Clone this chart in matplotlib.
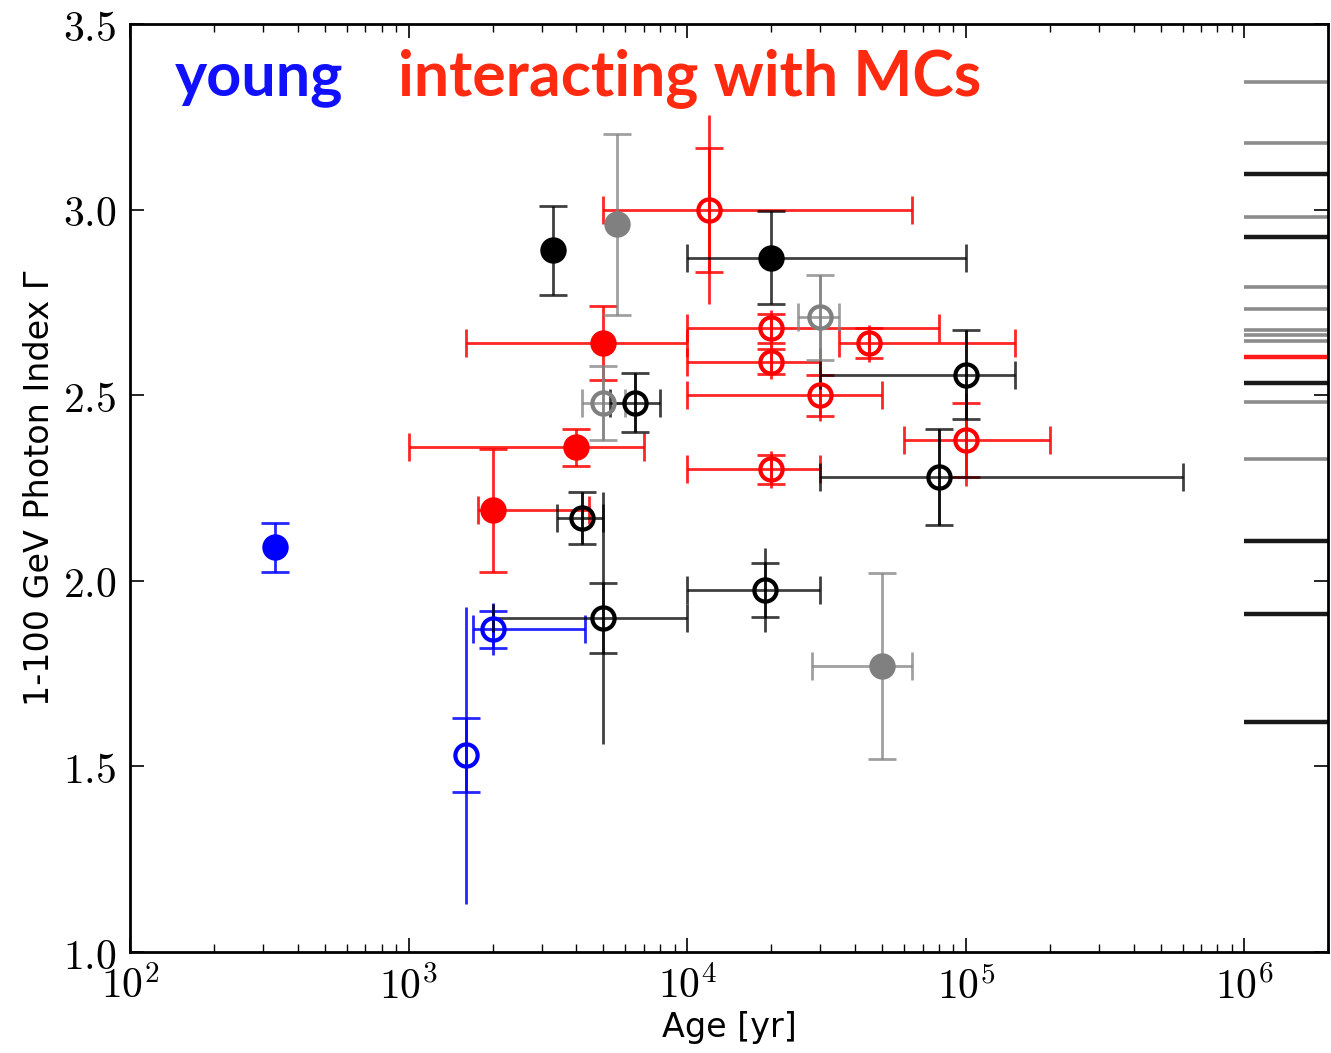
import matplotlib
matplotlib.use("Agg")
import matplotlib.pyplot as plt
from matplotlib.ticker import FixedLocator, FuncFormatter, LogLocator, NullFormatter
import numpy as np

plt.rcParams["mathtext.fontset"] = "cm"

# SNR sample: age [yr], age range, 1-100 GeV photon index, stat / syst errors
group = ["young", "young", "young",
         "mc", "mc", "mc", "mc", "mc", "mc", "mc", "mc", "mc", "mc",
         "other", "unsure", "other", "unsure", "unsure", "other", "other",
         "other", "other", "other", "other", "unsure"]
filled = [True, False, False,
          True, True, True, False, False, False, False, False, False, False,
          True, True, True, False, False, False, False,
          False, False, False, False, True]
age = [330, 2000, 1600,
       5000, 4000, 2000, 12000, 20000, 20000, 45000, 30000, 100000, 20000,
       3300, 5600, 20000, 30000, 5000, 6500, 4200,
       5000, 19000, 100000, 80000, 50000]
age_lo = [None, 1700, None,
          1600, 1000, 1780, 5000, 10000, 10000, 35000, 10000, 60000, 10000,
          None, None, 10000, 25000, 4200, 5300, 3400,
          2000, 10000, 30000, 30000, 28000]
age_hi = [None, 4300, None,
          10000, 7000, 4450, 64000, 80000, 30000, 150000, 50000, 200000, 30000,
          None, None, 100000, 35000, 6000, 8000, 5000,
          10000, 30000, 150000, 600000, 64000]
gamma = [2.09, 1.87, 1.53,
         2.64, 2.36, 2.19, 3.00, 2.68, 2.59, 2.64, 2.50, 2.38, 2.30,
         2.89, 2.96, 2.87, 2.71, 2.48, 2.48, 2.17,
         1.90, 1.975, 2.555, 2.28, 1.77]
gamma_stat = [0.065, 0.05, 0.10,
              0.10, 0.05, 0.165, 0.167, 0.04, 0.034, 0.04, 0.055, 0.10, 0.04,
              0.12, 0.245, 0.125, 0.115, 0.10, 0.08, 0.07,
              0.095, 0.073, 0.12, 0.13, 0.25]
gamma_sys = [0.0, 0.07, 0.40,
             0.0, 0.0, 0.0, 0.255, 0.05, 0.045, 0.05, 0.07, 0.125, 0.05,
             0.0, 0.0, 0.0, 0.115, 0.10, 0.08, 0.07,
             0.34, 0.113, 0.12, 0.13, 0.0]

# sources without age estimate, shown as bars at the right edge
noage_gamma = [3.344, 3.179, 3.095, 2.981, 2.926, 2.791, 2.732, 2.675, 2.661,
               2.647, 2.603, 2.533, 2.482, 2.328, 2.107, 1.910, 1.620]
noage_group = ["unsure", "unsure", "other", "unsure", "other", "unsure", "unsure",
               "unsure", "unsure", "unsure", "mc", "other", "unsure", "unsure",
               "other", "other", "other"]

COLORS = {"young": "#0000ff", "mc": "#ff0000", "other": "#000000", "unsure": "#808080"}

fig = plt.figure(figsize=(13.31, 10.53), dpi=100)
ax = fig.add_axes([0.0977, 0.0959, 0.9003, 0.8813])

for i in range(len(age)):
    c = COLORS[group[i]]
    if age_lo[i] is not None:
        xerr = [[age[i] - age_lo[i]], [age_hi[i] - age[i]]]
    else:
        xerr = None
    ealpha = 0.75 if group[i] in ("other", "unsure") else 0.85
    if gamma_sys[i] > 0:
        ax.errorbar(age[i], gamma[i], yerr=gamma_sys[i], fmt="none",
                    ecolor=c, elinewidth=2.0, capsize=0, alpha=ealpha, zorder=2)
    ax.errorbar(age[i], gamma[i], xerr=xerr, yerr=gamma_stat[i], fmt="none",
                ecolor=c, elinewidth=2.0, capsize=10, capthick=2.0,
                alpha=ealpha, zorder=2)
    ax.plot(age[i], gamma[i], "o", ms=16, mew=3.0, mec=c,
            mfc=c if filled[i] else "none", zorder=3)

for g, grp in zip(noage_gamma, noage_group):
    lw = 3.2 if grp in ("other", "mc") else 2.6
    ax.hlines(g, 1.0e6, 2e6, color=COLORS[grp], lw=lw, alpha=0.9, zorder=2)

ax.set_xscale("log")
ax.set_xlim(1e2, 2e6)
ax.set_ylim(1.0, 3.5)

ax.xaxis.set_major_locator(LogLocator(base=10, numticks=10))
ax.xaxis.set_minor_locator(LogLocator(base=10, subs=np.arange(2, 10), numticks=50))
ax.xaxis.set_minor_formatter(NullFormatter())
ax.xaxis.set_major_formatter(FuncFormatter(lambda v, _: f"$10^{{{int(round(np.log10(v)))}}}$"))
ax.yaxis.set_major_locator(FixedLocator([1.0, 1.5, 2.0, 2.5, 3.0, 3.5]))
ax.yaxis.set_major_formatter(FuncFormatter(lambda v, _: f"${v:.1f}$"))

ax.tick_params(which="both", direction="in", top=True, right=True, labelsize=30)
ax.tick_params(which="major", length=10, width=1.2)
ax.tick_params(which="minor", length=6, width=1.0)
ax.tick_params(axis="x", which="major", pad=10)
ax.tick_params(axis="y", which="major", pad=10)
for s in ax.spines.values():
    s.set_linewidth(2.0)

ax.set_xlabel("Age [yr]", fontsize=24, labelpad=2)
ax.set_ylabel("1-100 GeV Photon Index Γ", fontsize=24, labelpad=5)

fig.text(0.131, 0.91, "young", color="#1010ff", fontsize=44, fontweight="bold",
         family="Lato", va="baseline")
fig.text(0.299, 0.91, "interacting with MCs", color="#ff2a10", fontsize=45,
         fontweight="bold", family="Lato", va="baseline")

fig.savefig("out.png", dpi=100)
